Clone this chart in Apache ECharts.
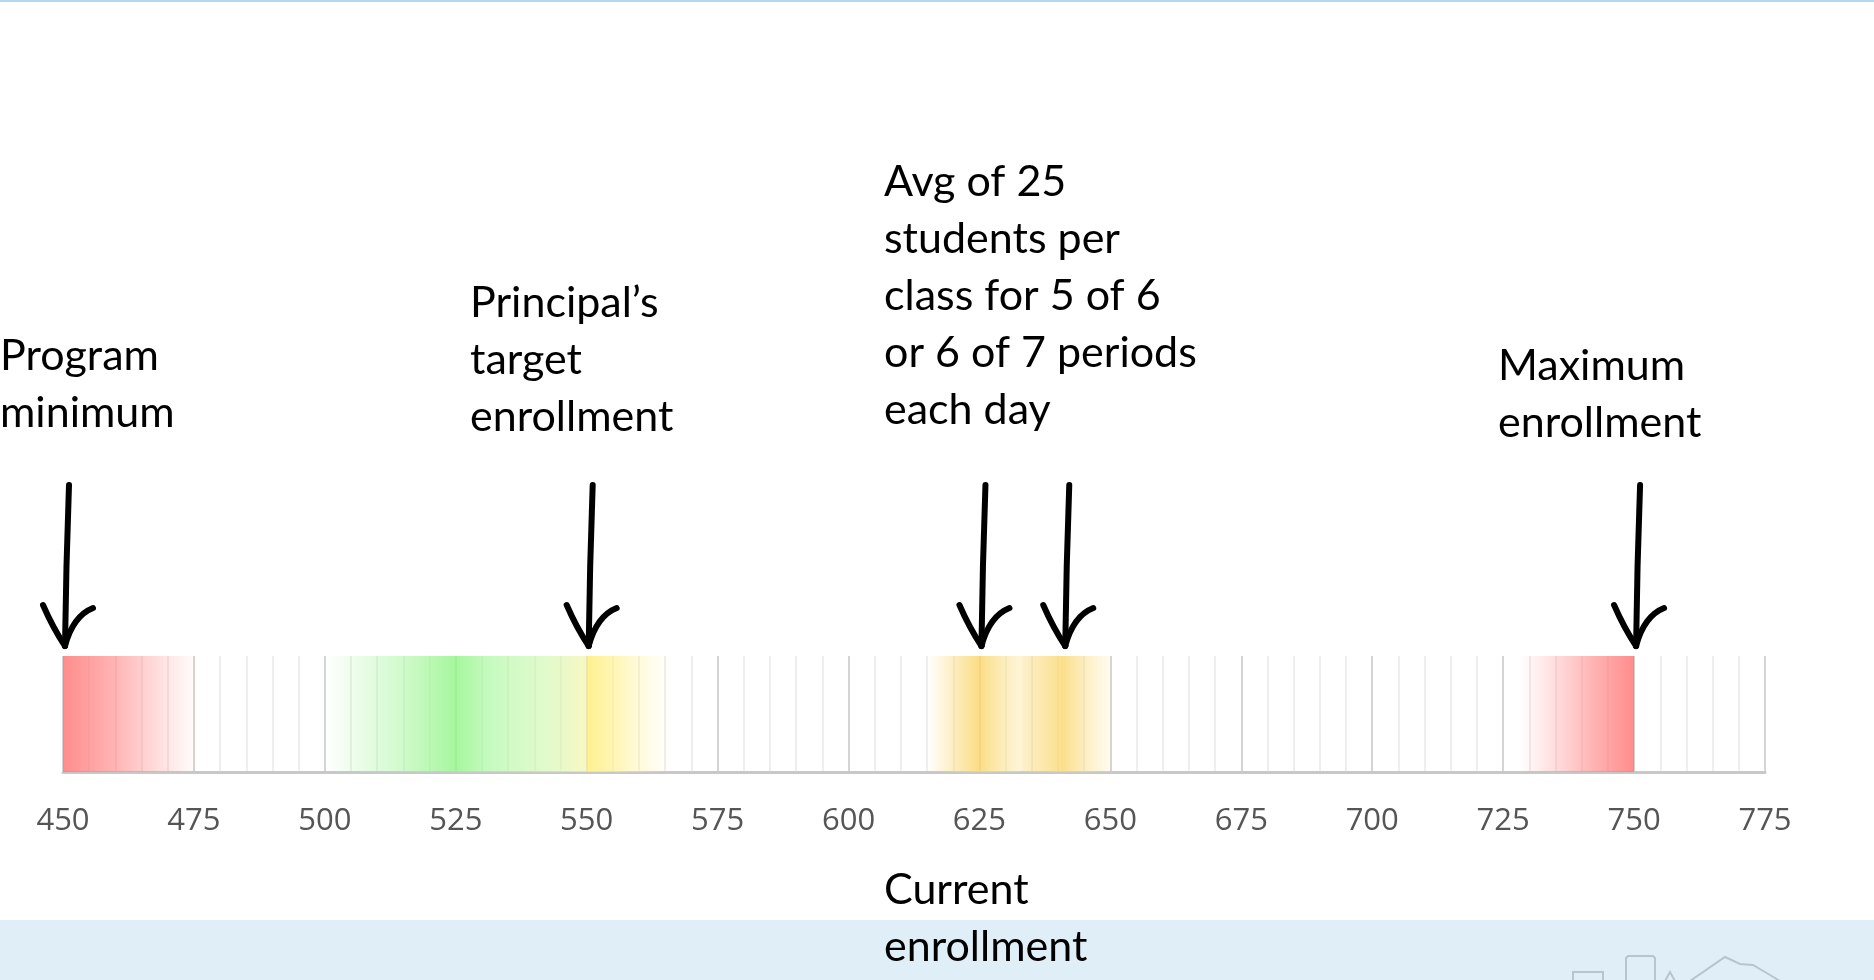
<!DOCTYPE html>
<html>
<head>
<meta charset="utf-8">
<script src="https://cdn.jsdelivr.net/npm/echarts@6/dist/echarts.min.js"></script>
<style>
html,body{margin:0;padding:0;background:#fff;}
#chart{width:1874px;height:980px;}
</style>
</head>
<body>
<div id="chart"></div>
<script>
// ---- data ----
const axisMin = 450;
const axisMax = 775;
const axisStep = 25;
const arrowValues = [450, 550, 625, 641, 750];

// gradient bands: [value, colour] stops
const redLowStops = [[450, 'rgba(255,120,120,0.85)'], [460, 'rgba(255,130,130,0.6)'], [476, 'rgba(255,150,150,0)']];
const greenStops = [[500, 'rgba(160,245,150,0)'], [515, 'rgba(160,245,150,0.5)'], [525, 'rgba(150,245,140,0.85)'], [532, 'rgba(170,248,160,0.65)'], [542, 'rgba(205,246,170,0.6)'], [550, 'rgba(245,245,170,0.7)']];
const yellowLowStops = [[550, 'rgba(255,238,120,0.85)'], [556, 'rgba(255,240,140,0.6)'], [566, 'rgba(255,245,170,0)']];
const yellowMidStops = [[615, 'rgba(250,215,110,0)'], [625, 'rgba(250,215,110,0.85)'], [633, 'rgba(252,228,150,0.35)']];
const yellowHighStops = [[633, 'rgba(250,215,110,0.35)'], [641, 'rgba(250,215,110,0.8)'], [650, 'rgba(252,228,150,0.15)']];
const redHighStops = [[728, 'rgba(255,150,150,0)'], [742, 'rgba(255,130,130,0.6)'], [750, 'rgba(255,120,120,0.85)']];
const bandStops = [redLowStops, greenStops, yellowLowStops, yellowMidStops, yellowHighStops, redHighStops];

const labelTexts = [
  'Program\nminimum',
  'Principal\u2019s\ntarget\nenrollment',
  'Avg of 25\nstudents per\nclass for 5 of 6\nor 6 of 7 periods\neach day',
  'Maximum\nenrollment',
  'Current\nenrollment'
];

// ---- layout (pixels) ----
const labelPos = [[0, 328], [470, 275], [884, 154], [1498, 338], [884, 862]];

const chart = echarts.init(document.getElementById('chart'), null, {renderer: 'canvas'});

const textGraphics = labelTexts.map((t, i) => ({
  type: 'text',
  x: labelPos[i][0],
  y: labelPos[i][1],
  z: 10,
  style: {
    text: t,
    fill: '#000',
    fontFamily: 'Lato',
    fontSize: 43,
    lineHeight: 57,
    align: 'left',
    verticalAlign: 'top'
  }
}));

const option = {
  backgroundColor: '#ffffff',
  animation: false,
  grid: {left: 63, right: 109, top: 656, height: 116},
  xAxis: {
    type: 'value',
    min: axisMin,
    max: axisMax,
    interval: axisStep,
    axisLine: {show: true, lineStyle: {color: '#c8c8c8', width: 3}},
    axisTick: {show: false},
    axisLabel: {color: '#555', fontSize: 31, fontFamily: 'Open Sans', margin: 34},
    splitLine: {show: true, lineStyle: {color: '#d4d4d4', width: 2}},
    minorTick: {show: false, splitNumber: 5},
    minorSplitLine: {show: true, lineStyle: {color: '#eeeeee', width: 2}}
  },
  yAxis: {type: 'value', min: 0, max: 1, show: false},
  graphic: [
    {type: 'rect', shape: {x: 0, y: 920, width: 1874, height: 60}, style: {fill: '#e0eef8'}, z: -5},
    {type: 'rect', shape: {x: 0, y: 0, width: 1874, height: 2}, style: {fill: '#b3d9f2'}, z: -5},
    {type: 'polyline', shape: {points: [[1573, 981], [1573, 972], [1603, 972], [1603, 981]]}, style: {stroke: '#b9c5cd', lineWidth: 2, fill: null}},
    {type: 'polyline', shape: {points: [[1626, 981], [1626, 958], [1628, 956], [1653, 956], [1655, 958], [1655, 981]]}, style: {stroke: '#b9c5cd', lineWidth: 2, fill: null}},
    {type: 'polyline', shape: {points: [[1665, 981], [1670, 972], [1675, 981]]}, style: {stroke: '#b9c5cd', lineWidth: 2, fill: null}},
    {type: 'polyline', shape: {points: [[1690, 981], [1725, 957], [1740, 964], [1753, 965], [1770, 975], [1780, 981]]}, style: {stroke: '#b9c5cd', lineWidth: 2, fill: null}}
  ].concat(textGraphics),
  series: [
    {
      type: 'custom',
      name: 'bands',
      data: bandStops.map((s, i) => [i]),
      encode: {x: -1, y: -1},
      renderItem: function (params, api) {
        const stops = bandStops[api.value(0)];
        const start = stops[0][0];
        const end = stops[stops.length - 1][0];
        const p0 = api.coord([start, 1]);
        const p1 = api.coord([end, 0]);
        return {
          type: 'rect',
          shape: {x: p0[0], y: p0[1], width: p1[0] - p0[0], height: p1[1] - p0[1]},
          style: {
            fill: new echarts.graphic.LinearGradient(0, 0, 1, 0,
              stops.map(s => ({offset: (s[0] - start) / (end - start), color: s[1]})))
          }
        };
      }
    },
    {
      type: 'custom',
      name: 'arrows',
      data: arrowValues.map(v => [v, 1]),
      clip: false,
      z: 5,
      renderItem: function (params, api) {
        const p = api.coord([api.value(0), api.value(1)]);
        const tx = p[0] + 2, ty = p[1] - 10;
        const st = {stroke: '#000', lineWidth: 6, fill: null, lineCap: 'round', lineJoin: 'round'};
        return {
          type: 'group',
          children: [
            {type: 'path', shape: {pathData: 'M' + (tx + 4) + ' ' + (ty - 161) + ' Q' + (tx + 1) + ' ' + (ty - 80) + ' ' + tx + ' ' + ty}, style: st},
            {type: 'path', shape: {pathData: 'M' + (tx - 22) + ' ' + (ty - 41) + ' Q' + (tx - 12) + ' ' + (ty - 18) + ' ' + tx + ' ' + ty}, style: st},
            {type: 'path', shape: {pathData: 'M' + tx + ' ' + ty + ' Q' + (tx + 8) + ' ' + (ty - 30) + ' ' + (tx + 28) + ' ' + (ty - 38)}, style: st}
          ]
        };
      }
    }
  ]
};
chart.setOption(option);
</script>
</body>
</html>
